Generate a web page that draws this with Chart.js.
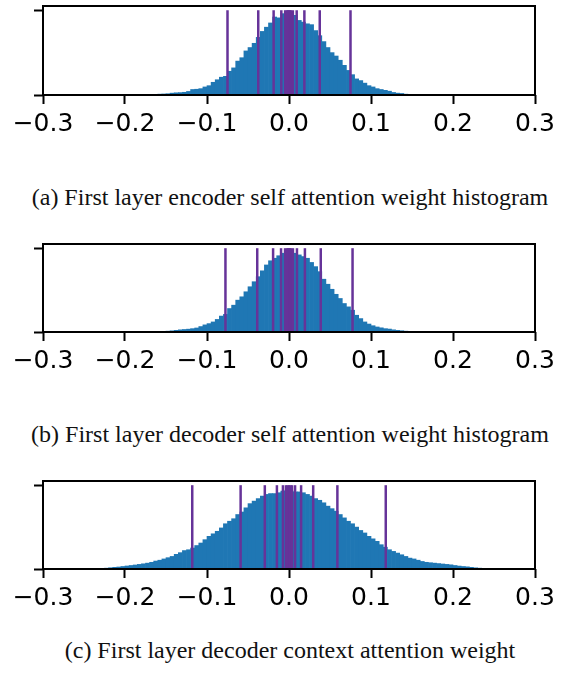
<!DOCTYPE html>
<html>
<head>
<meta charset="utf-8">
<script src="https://cdn.jsdelivr.net/npm/chart.js@4"></script>
<style>
  body { margin: 0; background: #fff; }
  #page { position: relative; width: 563px; height: 686px; }
  canvas { position: absolute; left: 0; }
  .caption {
    position: absolute; left: 0; width: 580px; text-align: center;
    font-family: "Liberation Serif", "Times New Roman", serif;
    font-size: 24px; line-height: 24px; color: #111; white-space: nowrap;
  }
</style>
</head>
<body>
<div id="page">
  <canvas id="chartA" width="563" height="140" style="top:0px"></canvas>
  <div class="caption" style="top:185px">(a) First layer encoder self attention weight histogram</div>
  <canvas id="chartB" width="563" height="139" style="top:238px"></canvas>
  <div class="caption" style="top:422px">(b) First layer decoder self attention weight histogram</div>
  <canvas id="chartC" width="563" height="139" style="top:475px"></canvas>
  <div class="caption" style="top:638px">(c) First layer decoder context attention weight</div>
</div>
<script>
// histogram bins: start at -0.26, width 0.005 (counts as % of the top tick)
const binStart = -0.26;
const binWidth = 0.005;
const xTicks = [-0.3, -0.2, -0.1, 0.0, 0.1, 0.2, 0.3];

const countsA = [
  0, 0, 0, 0, 0, 0, 0, 0, 0, 0, 0, 0, 0, 0, 0, 0,
  0.2, 0.4, 0.6, 0.8, 1.0, 1.2, 1.5, 2.2, 2.6, 2.8, 3.2, 4.2, 6.5, 6.8, 7.5, 9.5,
  11, 15, 18, 21, 22, 28, 32, 40, 44, 52, 56, 61, 68, 75, 80, 85,
  92, 91, 96, 99, 98, 94, 88, 86, 84, 83, 76, 70, 63, 56, 50, 46,
  41, 35, 29, 24, 19, 17, 14, 11, 9.5, 7.5, 6.5, 5.5, 4.5, 3, 2.2, 1.8,
  1.0, 0.8, 0.5, 0.4, 0.4, 0.3, 0.2, 0.1
];
const countsB = [
  0, 0, 0, 0, 0, 0, 0, 0, 0, 0, 0, 0, 0, 0, 0, 0, 0, 0, 0,
  0.2, 0.4, 0.7, 1.0, 1.4, 2.0, 2.6, 3.0, 3.4, 4.0, 4.8, 6.5, 8.5,
  10, 12, 15, 19, 21, 28, 32, 38, 42, 48, 54, 60, 66, 73, 80, 85,
  88, 91, 94, 95, 95, 94, 92, 90, 88, 83, 78, 72, 63, 57, 51, 45,
  40, 34, 30, 26, 20, 16, 12, 9.5, 7.5, 6, 5, 4, 3.5, 2.6, 2.0, 1.5,
  1.0, 0.8, 0.5, 0.3
];
const countsC = [
  0, 0, 0, 0,
  0.5, 0.6, 0.7, 1.0, 1.5, 2.0, 2.4, 3.0, 3.6, 4.2, 4.8, 5.5,
  6.2, 7.0, 8.0, 9.5, 10.5, 12, 13.5, 15, 17.5, 19.5, 22, 23, 25, 28, 31, 35,
  39, 42, 45, 49, 54, 57, 60, 65, 68, 73, 78, 81, 84, 87, 89, 90,
  90, 91, 93, 94, 93, 92, 92, 91, 89, 87, 84, 82, 79, 75, 72, 69,
  65, 61, 57, 54, 50, 46, 43, 39, 36, 33, 29, 26, 23, 21, 19, 17,
  15, 13, 12, 10.5, 9, 8, 7.5, 7, 6.5, 6, 5.5, 5, 4.2, 3.5, 3, 2.6,
  2, 1.4, 1, 0.7, 0.4
];

// quantization levels (purple lines)
const levelsA = [-0.075, -0.0375, -0.01875, -0.009375, -0.0047, -0.0023, -0.0012, 0,
  0.0012, 0.0023, 0.0047, 0.009375, 0.01875, 0.0375, 0.075];
const levelsB = [-0.0775, -0.03875, -0.0194, -0.0097, -0.0048, -0.0024, -0.0012, 0,
  0.0012, 0.0024, 0.0048, 0.0097, 0.0194, 0.03875, 0.0775];
const levelsC = [-0.118, -0.059, -0.0295, -0.01475, -0.0074, -0.0037, -0.0018, 0,
  0.0018, 0.0037, 0.0074, 0.01475, 0.0295, 0.059, 0.118];

const boxPlugin = {
  id: "box",
  afterDraw(chart) {
    const { ctx, chartArea } = chart;
    ctx.save();
    ctx.strokeStyle = "#000";
    ctx.lineWidth = 2;
    ctx.strokeRect(chartArea.left, chartArea.top, chartArea.right - chartArea.left, chartArea.bottom - chartArea.top);
    ctx.restore();
  }
};

function tickLabel(v) {
  if (Math.abs(v) < 1e-9) return "0.0";
  return (v < 0 ? "\u2212" : "") + Math.abs(v).toFixed(1);
}

function buildPanel(id, counts, levels) {
  const bars = counts.map((c, i) => ({ x: binStart + (i + 0.5) * binWidth, y: c / 100 }));
  const lineSets = levels.map((q) => ({
    type: "line",
    data: [{ x: q, y: 0 }, { x: q, y: 1 }],
    borderColor: "#663399",
    borderWidth: 2.5,
    pointRadius: 0,
    order: 1,
  }));

  new Chart(document.getElementById(id), {
    type: "bar",
    data: {
      datasets: [{
        data: bars,
        backgroundColor: "#1f77b4",
        borderWidth: 0,
        barPercentage: 1,
        categoryPercentage: 1,
        order: 2,
      }, ...lineSets]
    },
    options: {
      responsive: false,
      animation: false,
      devicePixelRatio: 1,
      layout: { padding: { top: 6, right: 28, left: 0, bottom: 0 } },
      plugins: { legend: { display: false }, tooltip: { enabled: false } },
      scales: {
        x: {
          type: "linear",
          offset: false,
          min: -0.3,
          max: 0.3,
          afterBuildTicks: (s) => { s.ticks = xTicks.map((v) => ({ value: v })); },
          afterFit: (s) => { s.height = 45; },
          ticks: {
            callback: tickLabel,
            color: "#000",
            padding: 5,
            maxRotation: 0,
            autoSkip: false,
            font: { family: "DejaVu Sans", size: 25 },
          },
          grid: { offset: false, drawOnChartArea: false, tickLength: 9, tickWidth: 2, tickColor: "#000" },
          border: { display: false },
        },
        y: {
          min: 0,
          max: 1.05,
          afterBuildTicks: (s) => { s.ticks = [{ value: 0 }, { value: 1 }]; },
          afterFit: (s) => { s.width = 43; },
          ticks: { display: false },
          grid: { drawOnChartArea: false, tickLength: 9, tickWidth: 2, tickColor: "#000" },
          border: { display: false },
        }
      }
    },
    plugins: [boxPlugin]
  });
}

buildPanel("chartA", countsA, levelsA);
buildPanel("chartB", countsB, levelsB);
buildPanel("chartC", countsC, levelsC);
</script>
</body>
</html>
